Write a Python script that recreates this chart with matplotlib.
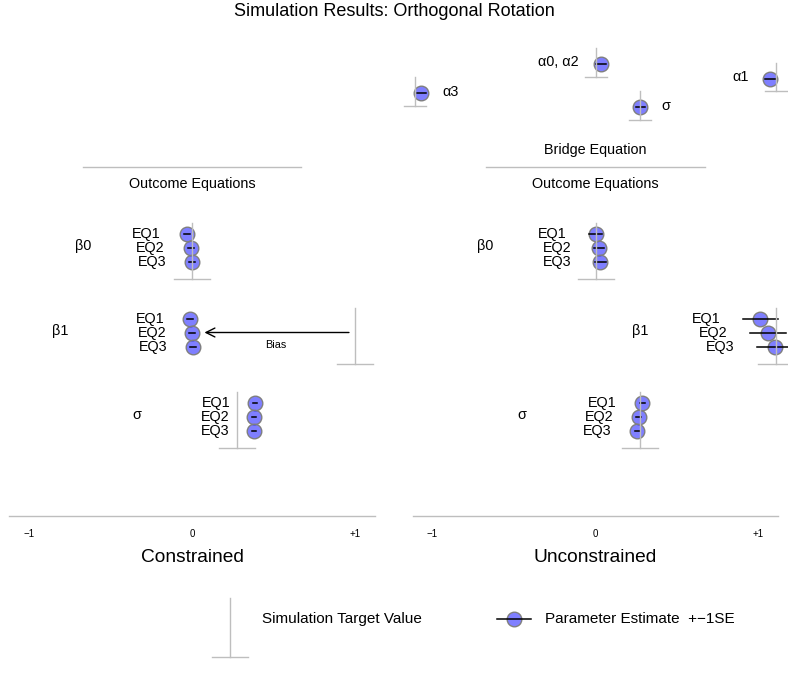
import numpy as np
import matplotlib.pyplot as plt
from matplotlib.lines import Line2D

plt.rcParams['font.family'] = ['Liberation Sans', 'DejaVu Sans']

# Outcome equation estimates (EQ1, EQ2, EQ3) per parameter
params = ['\u03b20', '\u03b21', '\u03c3']
eq_names = ['EQ1', 'EQ2', 'EQ3']

con_target = [0.0, 1.0, 0.278]
con_est = [[-0.033, -0.008, 0.0],
           [-0.012, 0.002, 0.008],
           [0.387, 0.380, 0.380]]
con_se = [[0.018, 0.018, 0.018],
          [0.018, 0.018, 0.018],
          [0.012, 0.012, 0.012]]

unc_target = [0.0, 1.108, 0.276]
unc_est = [[0.0, 0.02, 0.03],
           [1.012, 1.057, 1.102],
           [0.287, 0.266, 0.256]]
unc_se = [[0.04, 0.03, 0.035],
          [0.105, 0.11, 0.11],
          [0.015, 0.015, 0.015]]

# Bridge equation (unconstrained model only)
bridge_names = ['\u03b10, \u03b12', '\u03b11', '\u03b13', '\u03c3']
bridge_target = [0.0, 1.108, -1.11, 0.276]
bridge_est = [0.034, 1.073, -1.07, 0.276]
bridge_se = [0.03, 0.033, 0.028, 0.028]
bridge_label_side = ['left', 'left', 'right', 'right']

# where the parameter names sit on each panel
con_name_x = [-0.67, -0.81, -0.34]
unc_name_x = [-0.675, 0.276, -0.45]

tick_vals = [-1, 0, 1]
tick_labels = ['\u22121', '0', '+1']

W, H = 788, 673
PT_FILL = (0, 0, 1, 0.5)
PT_EDGE = '#7f7f7f'
GREY = '#bebebe'
PX = 1 / 163.0          # one pixel in data units
row0, eq_step, block_step = 234, 14, 84.5

fig = plt.figure(figsize=(W / 100, H / 100), dpi=100)


def make_panel(left_px):
    ax = fig.add_axes([left_px / W, 0, 384 / W, 1])
    ax.set_xlim(-192 * PX, 192 * PX)
    ax.set_ylim(H, 0)
    ax.axis('off')
    return ax


def target_mark(ax, x, y_top, y_bot, half):
    ax.plot([x, x], [y_top, y_bot], color=GREY, lw=1, clip_on=False, zorder=5)
    ax.plot([x - half, x + half], [y_bot, y_bot], color=GREY, lw=1,
            clip_on=False, zorder=5)


def estimate(ax, x, y, se):
    ax.plot(x, y, 'o', ms=10.5, mfc=PT_FILL, mec=PT_EDGE, mew=1,
            clip_on=False, zorder=3)
    ax.plot([x - se, x + se], [y, y], color='black', lw=1.1,
            clip_on=False, zorder=4)


def outcome_panel(ax, target, est, se, name_x, title):
    ax.plot([-0.67, 0.67], [166.7, 166.7], color=GREY, lw=1)
    ax.text(0, 184, 'Outcome Equations', ha='center', va='center', fontsize=10.4)
    for i in range(len(params)):
        ys = [row0 + i * block_step + j * eq_step for j in range(3)]
        target_mark(ax, target[i], ys[0] - 11, ys[2] + 17, 18 * PX)
        for j in range(3):
            estimate(ax, est[i][j], ys[j], se[i][j])
            ax.text(est[i][j] - se[i][j] - 0.14, ys[j], eq_names[j],
                    ha='right', va='center', fontsize=10.4)
        ax.text(name_x[i], ys[1] - 2, params[i], ha='center', va='center',
                fontsize=10.4)
    ax.plot([-1.12, 1.12], [516, 516], color=GREY, lw=1)
    for v, lab in zip(tick_vals, tick_labels):
        ax.text(v, 534, lab, ha='center', va='center', fontsize=7)
    ax.text(0, 558, title, ha='center', va='center', fontsize=13.8)


axl = make_panel(0)
axr = make_panel(403.5)

outcome_panel(axl, con_target, con_est, con_se, con_name_x, 'Constrained')
outcome_panel(axr, unc_target, unc_est, unc_se, unc_name_x, 'Unconstrained')

# bias arrow on the constrained slope
y_b1 = row0 + block_step + eq_step
axl.annotate('', xy=(np.mean(con_est[1]) + 0.06, y_b1),
             xytext=(con_target[1] - 0.02, y_b1),
             arrowprops=dict(arrowstyle='->', color='black', lw=1,
                             mutation_scale=16))
axl.text((con_target[1] + np.mean(con_est[1])) / 2 + 0.015, y_b1 + 13, 'Bias',
         ha='center', va='center', fontsize=7.8)

# bridge equation across the top of the unconstrained panel
for k in range(len(bridge_names)):
    y = 64.3 + k * 14.3
    target_mark(axr, bridge_target[k], y - 16, y + 12.7, 11 * PX)
    estimate(axr, bridge_est[k], y, bridge_se[k])
    if bridge_label_side[k] == 'left':
        axr.text(bridge_est[k] - 22 * PX, y - 2, bridge_names[k], ha='right',
                 va='center', fontsize=10.4)
    else:
        axr.text(bridge_est[k] + 21 * PX, y - 1, bridge_names[k], ha='left',
                 va='center', fontsize=10.4)
axr.text(0, 150, 'Bridge Equation', ha='center', va='center', fontsize=10.4)

fig.text(0.5, 1 - 12 / H, 'Simulation Results: Orthogonal Rotation',
         ha='center', va='center', fontsize=13)

# legend along the bottom
leg = fig.add_axes([0, 0, 1, 1])
leg.set_xlim(0, W)
leg.set_ylim(H, 0)
leg.axis('off')
leg.plot([230, 230], [598, 657], color=GREY, lw=1)
leg.plot([212, 248], [657, 657], color=GREY, lw=1)
leg.text(262, 619, 'Simulation Target Value', ha='left', va='center', fontsize=11)
leg.add_line(Line2D([497, 531], [619, 619], color='black', lw=1.1, zorder=4))
leg.plot(514, 619, 'o', ms=10.5, mfc=PT_FILL, mec=PT_EDGE, mew=1, zorder=3)
leg.text(545, 619, 'Parameter Estimate  +\u22121SE', ha='left', va='center',
         fontsize=11)

fig.savefig('out.png', dpi=100, facecolor='white')
